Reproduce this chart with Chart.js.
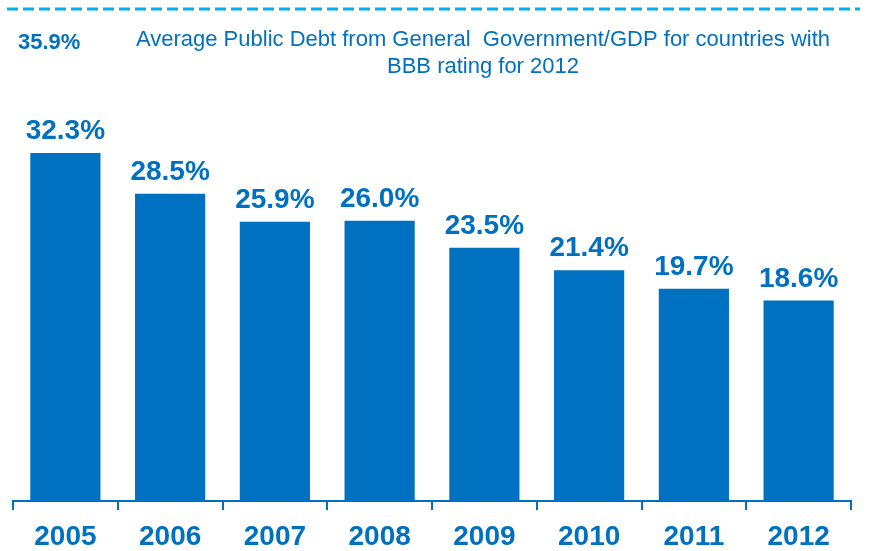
<!DOCTYPE html>
<html>
<head>
<meta charset="utf-8">
<script src="https://cdn.jsdelivr.net/npm/chart.js@4"></script>
<style>
  html, body { margin: 0; padding: 0; background: #fff; }
  #wrap { position: relative; width: 871px; height: 551px; }
</style>
</head>
<body>
<div id="wrap"><canvas id="debtChart" width="871" height="551"></canvas></div>
<script>
const years = ["2005", "2006", "2007", "2008", "2009", "2010", "2011", "2012"];
const debtRatio = [32.3, 28.5, 25.9, 26.0, 23.5, 21.4, 19.7, 18.6];
const peakLabel = "35.9%";
const titleLines = [
	"Average Public Debt from General  Government/GDP for countries with",
	"BBB rating for 2012"
];

const blue = "#0070C0";
const cyan = "#00B0F0";
const font = "'Liberation Sans', Arial, sans-serif";

// header: dashed rule, peak value and the two-line title
const header = {
	id: "header",
	beforeDraw(chart) {
		const c = chart.ctx;
		c.save();
		c.strokeStyle = cyan;
		c.lineWidth = 3;
		c.setLineDash([11, 5]);
		c.beginPath();
		c.moveTo(7, 9);
		c.lineTo(860, 9);
		c.stroke();
		c.setLineDash([]);

		c.fillStyle = blue;
		c.font = "bold 22px " + font;
		c.textAlign = "left";
		c.textBaseline = "alphabetic";
		c.fillText(peakLabel, 18, 49);

		c.font = "22px " + font;
		c.textAlign = "center";
		c.fillText(titleLines[0], 483, 46);
		c.fillText(titleLines[1], 483, 73);
		c.restore();
	}
};

// value above each bar
const barValues = {
	id: "barValues",
	afterDatasetsDraw(chart) {
		const c = chart.ctx;
		const meta = chart.getDatasetMeta(0);
		c.save();
		c.fillStyle = blue;
		c.font = "bold 28px " + font;
		c.textAlign = "center";
		c.textBaseline = "alphabetic";
		meta.data.forEach((bar, i) => {
			c.fillText(debtRatio[i].toFixed(1) + "%", bar.x, bar.y - 14);
		});
		c.restore();
	}
};

const myChart = new Chart(document.getElementById("debtChart"), {
	type: "bar",
	data: {
		labels: years,
		datasets: [
			{
				data: debtRatio,
				backgroundColor: blue,
				borderWidth: 0,
				barPercentage: 0.67,
				categoryPercentage: 1,
			},
		],
	},
	options: {
		responsive: false,
		animation: false,
		layout: { padding: { left: 13, right: 20, top: 113, bottom: 0 } },
		plugins: {
			legend: { display: false },
			tooltip: { enabled: false },
		},
		scales: {
			x: {
				grid: {
					display: true,
					offset: true,
					drawOnChartArea: false,
					drawTicks: true,
					tickLength: 9,
					color: blue,
					lineWidth: 2,
				},
				border: { display: true, color: blue, width: 2 },
				ticks: {
					color: blue,
					padding: 10,
					font: { family: font, size: 28, weight: "bold" },
				},
				afterFit(scale) {
					scale.height = 50;
				},
			},
			y: {
				display: false,
				min: 0,
				max: 36,
			},
		},
	},
	plugins: [header, barValues],
});
</script>
</body>
</html>
